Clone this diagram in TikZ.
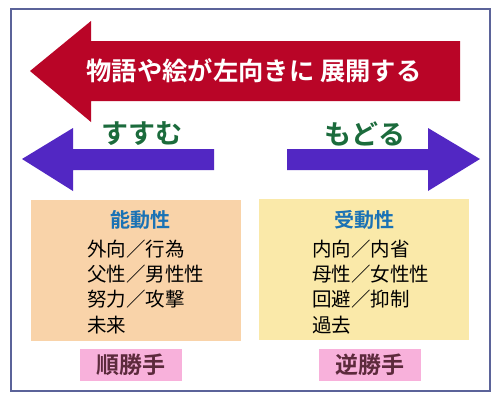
\documentclass[tikz,border=0pt]{standalone}
\usepackage{fontspec}
\newfontfamily\jp{Noto Sans CJK JP}
\newfontfamily\jpb{Noto Sans CJK JP Bold}
\definecolor{frame}{HTML}{5B6399}
\definecolor{redarrow}{HTML}{B90527}
\definecolor{purplearrow}{HTML}{5227C3}
\definecolor{greentext}{HTML}{1B6B3C}
\definecolor{bluetext}{HTML}{1A72B5}
\definecolor{orangebox}{HTML}{F9D3A9}
\definecolor{yellowbox}{HTML}{FAE9A9}
\definecolor{pinkbox}{HTML}{F8B1DB}
\definecolor{maroontext}{HTML}{5C2A3C}
\tikzset{
  dirlabel/.style={font=\jpb\fontsize{27}{27}\selectfont, text=greentext, inner sep=0pt},
  boxtitle/.style={font=\jpb\fontsize{20}{20}\selectfont, text=bluetext, inner sep=0pt},
  listitem/.style={font=\jp\fontsize{19.5}{19.5}\selectfont, text=black, inner sep=0pt, anchor=west},
  handlabel/.style={font=\jpb\fontsize{23}{23}\selectfont, text=maroontext, inner sep=0pt},
}
\begin{document}
\begin{tikzpicture}[x=1pt,y=-1pt]
\useasboundingbox (0,0) rectangle (500,400);
\fill[white] (0,0) rectangle (500,400);
% frame
\draw[frame, line width=2pt] (11,9) rectangle (490,391);
% red arrow
\fill[redarrow] (30,71) -- (91,21) -- (91,41) -- (460,41) -- (460,101) -- (91,101) -- (91,122) -- cycle;
\node[font=\jpb\fontsize{25.3}{25.3}\selectfont, text=white, inner sep=0pt] (title) at (254,71) {物語や絵が左向きに 展開する};
% purple arrows
\fill[purplearrow] (22,159) -- (73,128) -- (73,149) -- (214,149) -- (214,170) -- (73,170) -- (73,191) -- cycle;
\fill[purplearrow] (480,159) -- (428,128) -- (428,149) -- (287,149) -- (287,170) -- (428,170) -- (428,191) -- cycle;
\node[dirlabel] (susumu) at (142,134) {すすむ};
\node[dirlabel] (modoru) at (365,134) {もどる};
% boxes
\fill[orangebox] (31,200) rectangle (241,341);
\fill[yellowbox] (259,199) rectangle (469,340);
\node[boxtitle] (noudou) at (140,220) {能動性};
\node[boxtitle] (judou) at (364,220) {受動性};
\node[listitem] (l1) at (87,249) {外向／行為};
\node[listitem] (l2) at (87,274) {父性／男性性};
\node[listitem] (l3) at (87,299) {努力／攻撃};
\node[listitem] (l4) at (87,325) {未来};
\node[listitem] (r1) at (312,249) {内向／内省};
\node[listitem] (r2) at (312,274) {母性／女性性};
\node[listitem] (r3) at (312,299) {回避／抑制};
\node[listitem] (r4) at (312,325) {過去};
% hand labels
\fill[pinkbox] (80,349) rectangle (182,381);
\fill[pinkbox] (319,349) rectangle (421,381);
\node[handlabel] (jun) at (131,365) {順勝手};
\node[handlabel] (gyaku) at (370,365) {逆勝手};
\end{tikzpicture}
\end{document}
